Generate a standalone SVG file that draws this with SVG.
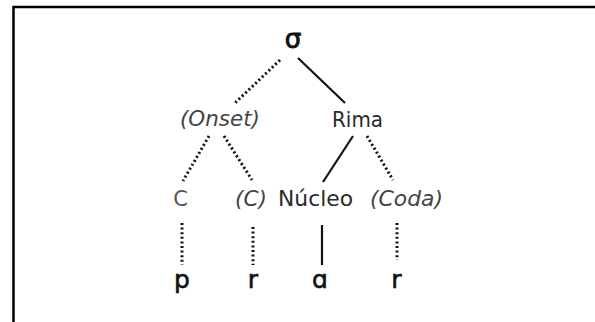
<svg xmlns="http://www.w3.org/2000/svg" width="595" height="322" viewBox="0 0 595 322">
<style>
.t{font-family:"DejaVu Sans","Open Sans",sans-serif;font-size:21px;fill:#2a2a2a;text-anchor:middle}
.i{font-style:italic;fill:#444}
.g{fill:#555}
.b{font-size:25px;fill:#111;stroke:#111;stroke-width:0.6}
.sg{font-size:26px;fill:#111;stroke:#111;stroke-width:0.9}
.s{stroke:#111;stroke-width:2.2;fill:none}
.d{stroke:#111;stroke-width:3;fill:none;stroke-dasharray:2 2.6}
</style>
<rect x="0" y="0" width="595" height="322" fill="#fff"/>
<path d="M13.5,330 V7 H600" fill="none" stroke="#000" stroke-width="2.5"/>
<g id="sigma"><text class="t sg" x="293" y="48">σ</text></g>
<g id="onset"><text class="t i" x="220" y="126" textLength="80" lengthAdjust="spacingAndGlyphs">(Onset)</text></g>
<g id="rima"><text class="t" x="357.5" y="127" textLength="51" lengthAdjust="spacingAndGlyphs">Rima</text></g>
<g id="c1"><text class="t g" x="180.5" y="206">C</text></g>
<g id="c2"><text class="t i" x="251" y="206" textLength="32" lengthAdjust="spacingAndGlyphs">(C)</text></g>
<g id="nucleo"><text class="t" x="315.5" y="206" textLength="75" lengthAdjust="spacingAndGlyphs">Núcleo</text></g>
<g id="coda"><text class="t i" x="406.5" y="206" textLength="73" lengthAdjust="spacingAndGlyphs">(Coda)</text></g>
<g id="p"><text class="t b" x="182" y="288">p</text></g>
<g id="r1"><text class="t b" x="253" y="288">r</text></g>
<g id="a"><text class="t b" x="320" y="288">ɑ</text></g>
<g id="r2"><text class="t b" x="396.5" y="288">r</text></g>
<g id="connectors">
<line class="d" x1="280" y1="60" x2="235" y2="103"/>
<line class="s" x1="298" y1="58" x2="345" y2="103"/>
<line class="d" x1="209" y1="136" x2="183" y2="181"/>
<line class="d" x1="224" y1="136" x2="252" y2="180"/>
<line class="s" x1="353" y1="136" x2="323" y2="182"/>
<line class="d" x1="367" y1="136" x2="393" y2="180"/>
<line class="d" x1="182" y1="223" x2="182" y2="265"/>
<line class="d" x1="253" y1="227" x2="253" y2="265"/>
<line class="s" x1="322" y1="225" x2="322" y2="265"/>
<line class="d" x1="397" y1="223" x2="397" y2="260"/>
</g>
</svg>
